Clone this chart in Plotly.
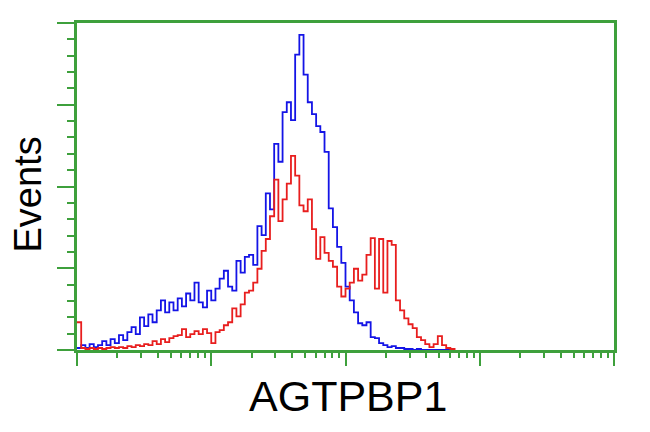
import plotly.graph_objects as go

# Histogram channels (128 channels over 4 log decades)
channels = list(range(0, 91))

blue_events = [
    2, 5, 2, 6, 3, 5, 9, 5, 11, 7,
    15, 10, 18, 23, 16, 33, 24, 36, 28, 40,
    50, 38, 48, 40, 52, 44, 57, 50, 68, 48,
    43, 60, 50, 62, 72, 80, 64, 60, 90, 78,
    94, 96, 86, 125, 116, 158, 142, 208, 190, 240,
    250, 232, 298, 318, 278, 250, 238, 226, 220, 200,
    143, 124, 104, 88, 64, 50, 38, 27, 25, 28,
    13, 12, 7, 5, 3, 4, 2, 2, 1, 1,
    0, 1, 0, 0, 0, 0, 0, 0, 0, 0, 0,
]

red_events = [
    28, 2, 1, 2, 1, 2, 1, 2, 3, 2,
    3, 2, 4, 3, 5, 4, 6, 5, 9, 6,
    11, 8, 12, 14, 15, 21, 13, 16, 19, 16,
    21, 17, 7, 18, 20, 25, 28, 42, 34, 46,
    58, 60, 68, 82, 100, 112, 135, 172, 130, 152,
    168, 196, 176, 146, 140, 152, 122, 92, 114, 98,
    90, 84, 64, 54, 62, 68, 82, 70, 76, 96,
    113, 62, 112, 58, 110, 106, 50, 40, 32, 26,
    22, 13, 10, 6, 3, 6, 14, 5, 2, 1, 0,
]

fluorescence = [10 ** (c / 32) for c in channels]

GREEN = "rgb(62,160,60)"
FONT = "Liberation Sans, Arial, sans-serif"

fig = go.Figure()
fig.add_trace(go.Scatter(x=fluorescence, y=blue_events, mode="lines",
                         line=dict(color="rgb(20,20,230)", width=1.8, shape="hv"),
                         showlegend=False))
fig.add_trace(go.Scatter(x=fluorescence, y=red_events, mode="lines",
                         line=dict(color="rgb(232,30,30)", width=1.8, shape="hv"),
                         showlegend=False))

major_x = [1, 10, 100, 1000, 10000]
minor_x = [m * d for d in [1, 10, 100, 1000] for m in range(2, 10)]

fig.update_layout(
    width=650, height=432,
    margin=dict(l=69, r=44, t=12, b=90),
    paper_bgcolor="white", plot_bgcolor="white",
    font=dict(family=FONT, color="black"),
    xaxis=dict(type="log", range=[0, 4], showgrid=False, zeroline=False,
               showline=True, linecolor=GREEN, linewidth=2.5, mirror=True,
               tickmode="array", tickvals=major_x, showticklabels=False,
               ticks="outside", ticklen=13, tickwidth=2, tickcolor=GREEN,
               minor=dict(tickmode="array", tickvals=minor_x, ticks="outside",
                          ticklen=5, tickwidth=2, tickcolor=GREEN, showgrid=False)),
    yaxis=dict(range=[0, 330], showgrid=False, zeroline=False,
               showline=True, linecolor=GREEN, linewidth=2.5, mirror=True,
               tick0=0, dtick=82.5, showticklabels=False,
               ticks="outside", ticklen=17, tickwidth=2, tickcolor=GREEN,
               minor=dict(dtick=16.5, ticks="outside", ticklen=7, tickwidth=2,
                          tickcolor=GREEN, showgrid=False)),
    annotations=[
        dict(text="Events", xref="paper", yref="paper", x=0, y=0.5,
             xanchor="center", yanchor="middle", xshift=-50, yshift=-8,
             textangle=-90, showarrow=False,
             font=dict(size=38, family=FONT, color="black")),
        dict(text="AGTPBP1", xref="paper", yref="paper", x=0.5, y=0,
             xanchor="center", yanchor="middle", xshift=2, yshift=-46,
             showarrow=False,
             font=dict(size=43, family=FONT, color="black")),
    ],
)

fig.write_html("out.html")
